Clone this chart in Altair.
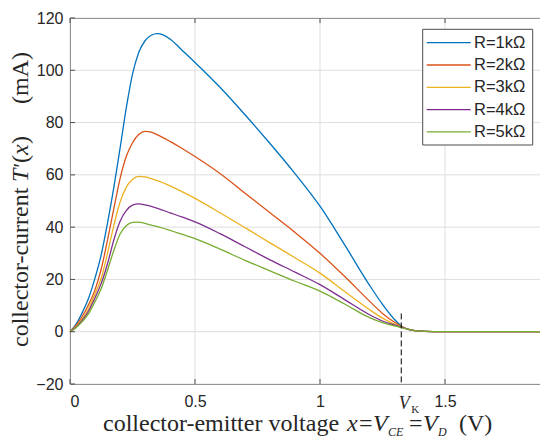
import altair as alt
import pandas as pd

# ---------------- data ----------------
x_vals = [0, .025, .05, .075, .1, .125, .15, .175, .2, .225, .25, .275, .3, .325, .35,
          .4, .45, .5, .6, .7, .8, .9, 1.0, 1.1, 1.2, 1.25, 1.3, 1.325, 1.35, 1.4,
          1.45, 1.5, 1.6, 1.7, 1.8, 1.88]

r1 = [0, 3, 7.5, 13, 20.5, 29.5, 41.5, 55, 70, 85.5, 98.5, 106.8, 111.3, 113.4, 114,
      112, 107.5, 103, 93.5, 83, 72, 60.5, 48, 33, 17.5, 10.5, 4.5, 2.2, 1, 0.2,
      0.03, 0, 0, 0, 0, 0]
r2 = [0, 2.5, 6, 10.5, 16, 24, 35, 47, 58.5, 67, 72.3, 75.4, 76.6, 76.3, 75.3,
      72.8, 70, 67, 60.5, 53, 45.5, 38, 30, 21, 11.5, 7, 3.5, 2.1, 1, 0.2,
      0.03, 0, 0, 0, 0, 0]
r3 = [0, 2, 5, 9, 14.5, 20.5, 30, 40.5, 49.5, 55.2, 58.2, 59.4, 59.2, 58.6, 57.8,
      55.8, 53.5, 51, 45.5, 39.8, 34, 28.3, 22.4, 15.3, 8.3, 5.2, 2.8, 1.9, 1, 0.2,
      0.03, 0, 0, 0, 0, 0]
r4 = [0, 1.8, 4.5, 8, 13, 18.5, 26, 35, 42.2, 46.3, 48.4, 48.9, 48.5, 47.9, 47.2,
      45.5, 43.8, 42, 37.5, 32.5, 27.5, 22.8, 18, 12.2, 6.4, 4.1, 2.5, 1.8, 1, 0.2,
      0.03, 0, 0, 0, 0, 0]
r5 = [0, 1.6, 4, 7, 11.5, 16.5, 23.5, 31, 37.3, 40.5, 41.8, 41.9, 41.4, 40.8, 40.2,
      38.8, 37.2, 35.6, 31.6, 27.3, 23.3, 19.3, 15.5, 10.5, 5.3, 3.5, 2.2, 1.6, 1, 0.2,
      0.03, 0, 0, 0, 0, 0]

names = ["R=1kΩ", "R=2kΩ", "R=3kΩ", "R=4kΩ", "R=5kΩ"]
series = [r1, r2, r3, r4, r5]
colors = ["#0072BD", "#D95319", "#EDB120", "#7E2F8E", "#77AC30"]

x_ticks = [0, 0.5, 1, 1.5]
y_ticks = [-20, 0, 20, 40, 60, 80, 100, 120]
VK = 1.325
vk_top = 7
x_domain = [0, 1.88]
y_domain = [-20, 120]

rows = []
for name, ys in zip(names, series):
    for xv, yv in zip(x_vals, ys):
        rows.append({"x": xv, "y": yv, "series": name})
df = pd.DataFrame(rows)

# ---------------- style ----------------
W, H = 470, 366
AX = "#4d4d4d"
TXT = "#262626"
GRID = "#dedede"
SERIF = "Liberation Serif"
SANS = "Liberation Sans"

xscale = alt.Scale(domain=x_domain, nice=False, zero=False)
yscale = alt.Scale(domain=y_domain, nice=False, zero=False)
xaxis = alt.Axis(values=x_ticks, format="~g", title=None, grid=False, ticks=False,
                 domain=False, labelFont=SANS, labelFontSize=16, labelColor=TXT,
                 labelPadding=9)
yaxis = alt.Axis(values=y_ticks, format="d", title=None, grid=False, ticks=False,
                 domain=False, labelFont=SANS, labelFontSize=16, labelColor=TXT,
                 labelPadding=7)

X = alt.X("x:Q", scale=xscale, axis=xaxis)
Y = alt.Y("y:Q", scale=yscale, axis=yaxis)

one = pd.DataFrame({"a": [0]})
xt = pd.DataFrame({"x": x_ticks})
yt = pd.DataFrame({"y": y_ticks})

# grid
vgrid = alt.Chart(xt).mark_rule(color=GRID, strokeWidth=1).encode(
    x=X, y=alt.value(0), y2=alt.value(H))
hgrid = alt.Chart(yt).mark_rule(color=GRID, strokeWidth=1).encode(
    y=Y, x=alt.value(0), x2=alt.value(W))

lines = alt.Chart(df).mark_line(strokeWidth=1.3, interpolate="monotone").encode(
    x=X, y=Y,
    color=alt.Color("series:N", scale=alt.Scale(domain=names, range=colors), legend=None),
)

# inward ticks
bottom_ticks = alt.Chart(xt).mark_rule(color=AX, strokeWidth=1).encode(
    x=X, y=alt.value(H), y2=alt.value(H - 5))
top_ticks = alt.Chart(xt).mark_rule(color=AX, strokeWidth=1).encode(
    x=X, y=alt.value(0), y2=alt.value(5))
left_ticks = alt.Chart(yt).mark_rule(color=AX, strokeWidth=1).encode(
    y=Y, x=alt.value(0), x2=alt.value(5))

# V_K dashed marker
vk_df = pd.DataFrame({"x": [VK], "y": [vk_top], "y2": [y_domain[0]]})
vk_line = alt.Chart(vk_df).mark_rule(color="black", strokeWidth=1, strokeDash=[6, 3]).encode(
    x=X, y=Y, y2="y2:Q")
vk_V = alt.Chart(vk_df).mark_text(text="V", font=SERIF, fontStyle="italic", fontSize=18,
                                  align="center", baseline="alphabetic", dx=3, color=TXT).encode(
    x=X, y=alt.value(391))
vk_K = alt.Chart(vk_df).mark_text(text="K", font=SERIF, fontSize=11,
                                  align="left", baseline="alphabetic", dx=10, color=TXT).encode(
    x=X, y=alt.value(395))


def label(txt, x, y, size, italic=False, angle=0, font=SERIF):
    return alt.Chart(pd.DataFrame({"t": [txt]})).mark_text(
        font=font, fontSize=size, fontStyle="italic" if italic else "normal",
        align="left", baseline="alphabetic", angle=angle, color=TXT).encode(
        text="t:N", x=alt.value(x), y=alt.value(y))


# x-axis title pieces
xb = 413
xsub = 418
xtitle = [
    label("collector-emitter voltage", 33, xb, 24),
    label("x", 277, xb, 24, True),
    label("=", 289, xb, 24),
    label("V", 303, xb, 24, True),
    label("CE", 318, xsub, 12, True),
    label("=", 339, xb, 24),
    label("V", 353, xb, 24, True),
    label("D", 368, xsub, 12, True),
    label("(V)", 389, xb, 24),
]

# y-axis title pieces (rotated)
yb = -42
ytitle = [
    label("collector-current", yb, 329, 24, False, 270),
    label("T", yb, 164, 24, True, 270),
    label("'", yb, 151, 22, True, 270),
    label("(", yb, 145, 24, False, 270),
    label("x", yb, 137, 24, True, 270),
    label(")", yb, 126, 24, False, 270),
    label("(mA)", yb, 86, 24, False, 270),
]

# legend
legend_box = alt.Chart(one).mark_rect(fill="white", stroke=AX, strokeWidth=1).encode(
    x=alt.value(352.7), x2=alt.value(462.7), y=alt.value(11.3), y2=alt.value(127))
legend_items = []
for i, (n, c) in enumerate(zip(names, colors)):
    yy = 24.7 + i * 22.3
    legend_items.append(alt.Chart(one).mark_rule(color=c, strokeWidth=1.3).encode(
        x=alt.value(356.7), x2=alt.value(400.7), y=alt.value(yy)))
    legend_items.append(alt.Chart(pd.DataFrame({"t": [n]})).mark_text(
        font=SANS, fontSize=16.5, align="left", baseline="middle", color=TXT).encode(
        text="t:N", x=alt.value(404), y=alt.value(yy)))

chart = alt.layer(
    vgrid, hgrid, lines, bottom_ticks, top_ticks, left_ticks, vk_line, vk_V, vk_K,
    *xtitle, *ytitle, legend_box, *legend_items
).properties(
    width=W, height=H,
    autosize=alt.AutoSizeParams(type="none"),
    padding={"left": 70, "top": 18, "right": 0, "bottom": 60},
).configure_view(stroke=AX, strokeWidth=1)

chart.save("out.html", embed_options={"renderer": "svg", "actions": False})
